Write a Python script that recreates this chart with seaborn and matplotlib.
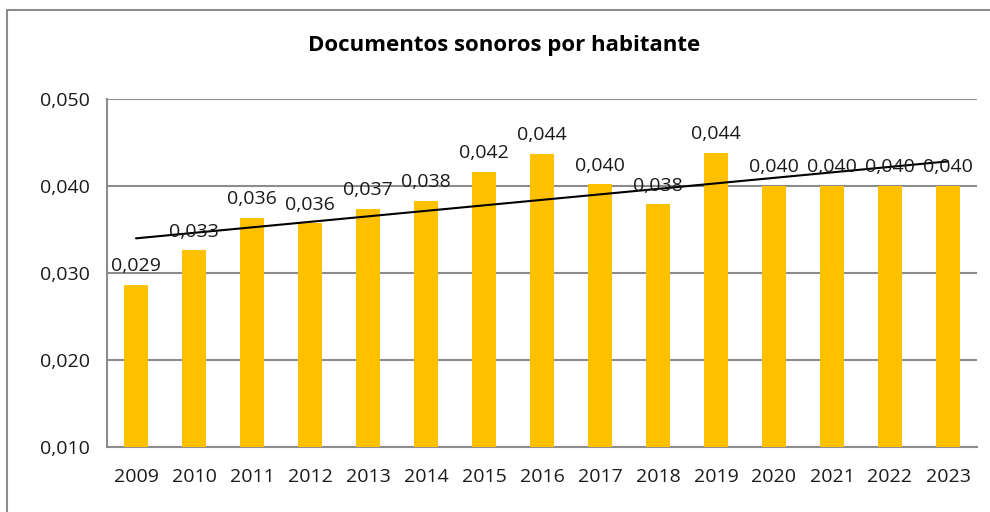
import numpy as np
import pandas as pd
import matplotlib.pyplot as plt
import seaborn as sns
from matplotlib.patches import Rectangle

# datos
anos = ['2009', '2010', '2011', '2012', '2013', '2014', '2015', '2016',
        '2017', '2018', '2019', '2020', '2021', '2022', '2023']
valores = [0.0286, 0.0326, 0.0363, 0.0357, 0.0374, 0.0383, 0.0416, 0.0437,
           0.0402, 0.0379, 0.0438, 0.0400, 0.0400, 0.0400, 0.0400]

df = pd.DataFrame({'ano': anos, 'valor': valores})

sns.set_style('white')
plt.rcParams['font.family'] = ['Open Sans', 'DejaVu Sans']

fig = plt.figure(figsize=(9.9, 5.12), dpi=100)
ax = fig.add_axes([107 / 990, 1 - 447 / 512, 870 / 990, 348 / 512])

sns.barplot(data=df, x='ano', y='valor', color='#FFC000', width=0.4,
            saturation=1, linewidth=0, ax=ax, zorder=3)

# línea de tendencia lineal
x = np.arange(len(valores))
pend, orig = np.polyfit(x, valores, 1)
ax.plot(x, pend * x + orig, color='black', lw=1.5, zorder=4)

# etiquetas de datos
for i, v in enumerate(valores):
    ax.annotate(f'{v:.3f}'.replace('.', ','), (i, v), xytext=(0, 7),
                textcoords='offset points', ha='center', va='bottom',
                fontsize=14, color='#1a1a1a', zorder=5)

ax.set_ylim(0.010, 0.050)
ax.set_xlim(-0.5, len(valores) - 0.5)
ax.set_yticks([0.010, 0.020, 0.030, 0.040, 0.050])
ax.set_yticklabels(['0,010', '0,020', '0,030', '0,040', '0,050'])
ax.set_xlabel('')
ax.set_ylabel('')
ax.yaxis.grid(True, color='#8c8c8c', lw=1.5, zorder=0)

# ticks del eje x entre categorías
ax.set_xticks(x)
ax.set_xticks(np.arange(len(valores) + 1) - 0.5, minor=True)
ax.tick_params(axis='x', which='major', length=0, pad=15, labelsize=14, labelcolor='#1a1a1a')
ax.tick_params(axis='x', which='minor', length=6, width=1.5, color='#8c8c8c', direction='out')
ax.tick_params(axis='y', length=6, width=1.5, color='#8c8c8c', direction='out',
               labelsize=14, labelcolor='#1a1a1a', pad=6)

for s in ['top', 'right']:
    ax.spines[s].set_visible(False)
for s in ['left', 'bottom']:
    ax.spines[s].set_color('#8c8c8c')
    ax.spines[s].set_linewidth(1.5)

fig.text(504 / 990, 1 - 46 / 512, 'Documentos sonoros por habitante',
         ha='center', va='center', fontsize=16, fontweight='bold', color='black')

# borde del gráfico
fig.patches.append(Rectangle((7 / 990, -0.1), 1.1, 1 - 10 / 512 + 0.1,
                             transform=fig.transFigure, fill=False,
                             edgecolor='#8c8c8c', lw=1.5))

fig.savefig('out.png', dpi=100)
